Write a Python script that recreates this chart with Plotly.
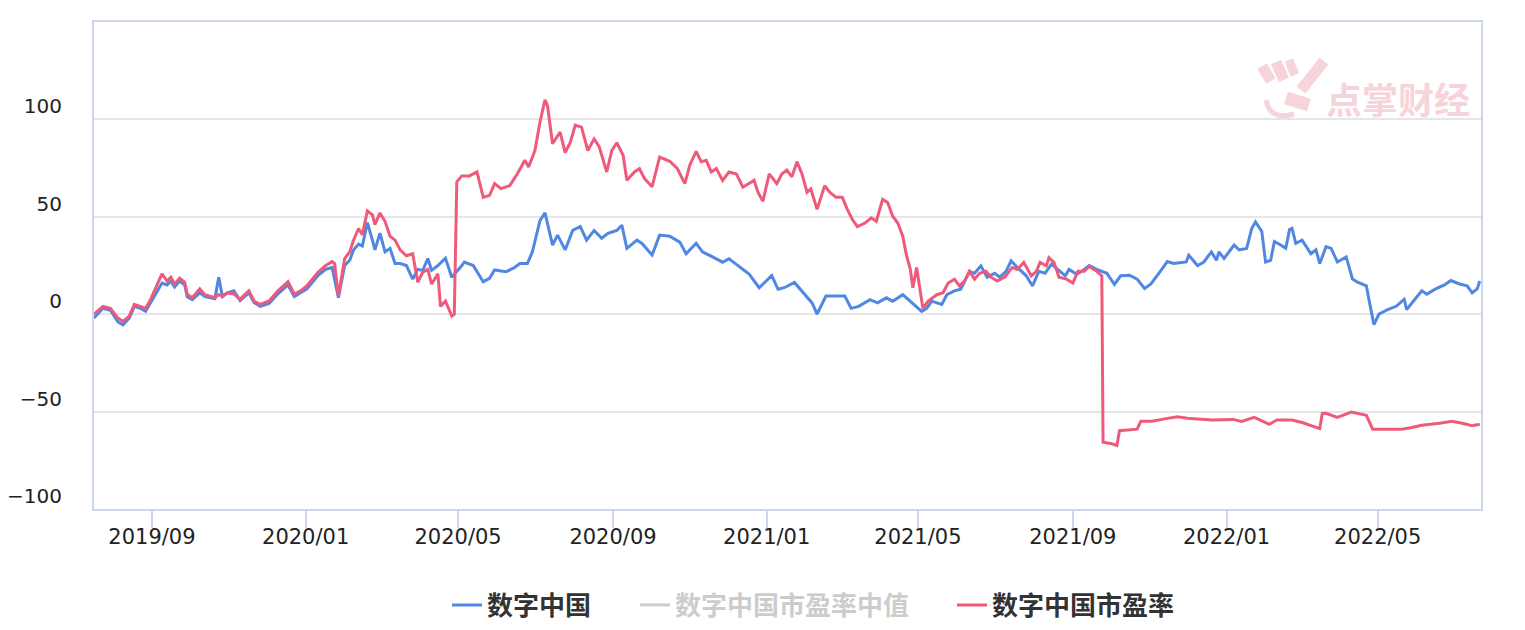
import plotly.graph_objects as go

blue_dates = ["2019-07-17","2019-07-24","2019-07-30","2019-08-05","2019-08-09","2019-08-14","2019-08-18","2019-08-23","2019-08-27","2019-08-31",
"2019-09-04","2019-09-09","2019-09-13","2019-09-16","2019-09-19","2019-09-23","2019-09-27","2019-09-29","2019-10-03","2019-10-09",
"2019-10-13","2019-10-17","2019-10-21","2019-10-24","2019-10-27","2019-10-31","2019-11-05","2019-11-10","2019-11-17","2019-11-21",
"2019-11-26","2019-12-03","2019-12-10","2019-12-18","2019-12-23","2019-12-28","2020-01-02","2020-01-11","2020-01-17","2020-01-22",
"2020-01-27","2020-02-01","2020-02-05","2020-02-08","2020-02-12","2020-02-15","2020-02-19","2020-02-23","2020-02-25","2020-02-29",
"2020-03-04","2020-03-08","2020-03-12","2020-03-16","2020-03-21","2020-03-26","2020-03-30","2020-04-03","2020-04-07","2020-04-10",
"2020-04-15","2020-04-21","2020-04-26","2020-05-04","2020-05-06","2020-05-13","2020-05-21","2020-05-26","2020-05-30","2020-06-08",
"2020-06-15","2020-06-19","2020-06-25","2020-06-29","2020-07-05","2020-07-09","2020-07-15","2020-07-19","2020-07-25","2020-07-31",
"2020-08-06","2020-08-11","2020-08-17","2020-08-23","2020-08-28","2020-09-04","2020-09-08","2020-09-12","2020-09-20","2020-09-24",
"2020-10-02","2020-10-08","2020-10-16","2020-10-24","2020-10-29","2020-11-06","2020-11-11","2020-11-19","2020-11-27","2020-12-02",
"2020-12-11","2020-12-18","2020-12-26","2021-01-05","2021-01-10","2021-01-15","2021-01-23","2021-01-31","2021-02-06","2021-02-10",
"2021-02-17","2021-02-25","2021-03-04","2021-03-09","2021-03-15","2021-03-24","2021-03-30","2021-04-06","2021-04-11","2021-04-19",
"2021-04-26","2021-05-04","2021-05-08","2021-05-12","2021-05-20","2021-05-24","2021-05-30","2021-06-04","2021-06-11","2021-06-15",
"2021-06-20","2021-06-25","2021-07-01","2021-07-05","2021-07-10","2021-07-14","2021-07-19","2021-07-26","2021-07-31","2021-08-05",
"2021-08-10","2021-08-15","2021-08-20","2021-08-26","2021-08-29","2021-09-04","2021-09-08","2021-09-14","2021-09-20","2021-09-28",
"2021-10-04","2021-10-09","2021-10-16","2021-10-22","2021-10-28","2021-11-02","2021-11-09","2021-11-15","2021-11-20","2021-11-30",
"2021-12-02","2021-12-09","2021-12-14","2021-12-20","2021-12-24","2021-12-26","2021-12-30","2022-01-07","2022-01-11","2022-01-17",
"2022-01-21","2022-01-24","2022-01-29","2022-02-01","2022-02-05","2022-02-08","2022-02-13","2022-02-17","2022-02-20","2022-02-22",
"2022-02-25","2022-03-02","2022-03-09","2022-03-13","2022-03-16","2022-03-21","2022-03-25","2022-03-30","2022-04-06","2022-04-11",
"2022-04-15","2022-04-22","2022-04-24","2022-04-28","2022-05-02","2022-05-09","2022-05-16","2022-05-22","2022-05-24","2022-06-01",
"2022-06-05","2022-06-09","2022-06-16","2022-06-23","2022-06-28","2022-07-05","2022-07-11","2022-07-15","2022-07-19","2022-07-21"]
blue_vals = [-2,3,2,-4,-5.5,-2,4,3,1.5,6,
11,16,15,17,14,17,15,9,7.5,11,
9,8.5,8,19,9,11,12,7,11,6,
4,5.5,10.5,15,9,11,13,20,23,24,
8.5,25,27.7,33,36,35,47,38,33,41.6,
32,33.8,26,26,25,18,23,22.5,28.6,22.5,
25,28.7,19,25,26.8,25,16.7,18.4,22.7,21.8,
24,26,26,32,48,52,35.5,40.6,33,43,
45,38,43,39,41.5,43,45.7,33.8,38,36.3,
30.4,40.6,40,37,31,36.4,32,29.4,26.7,28.5,
24,20.6,13.6,19.8,12.8,13.6,16.3,10,5.8,0,
9.3,9.3,9.3,3,4,7.5,5.8,8.4,6.6,10,
5.8,1.4,3,6.7,5,10,12,12.8,22,21,
24.8,19,21,19,22,27.4,24,19.7,14.5,22,
21,25.7,23,19.7,23,20.5,22,25,23,21,
15.3,19.7,20,18,13.2,15.5,21.6,27,26,26.8,
30.3,25,26.8,32,27.7,32,28.6,35.5,33,33.8,
44,47.4,42.5,26.8,27.7,37.3,35.5,33.8,43.4,44,
36.4,38,31,33,26,34.7,33.8,26.8,29.4,18,
16.4,14.6,7.7,-5.4,0,2.4,4.2,7.7,2.4,8.5,
12,10.3,13,15,17.3,15.5,14.6,11,13,17]

red_dates = ["2019-07-17","2019-07-24","2019-07-30","2019-08-05","2019-08-09","2019-08-14","2019-08-18","2019-08-23","2019-08-27","2019-08-31",
"2019-09-04","2019-09-09","2019-09-13","2019-09-16","2019-09-19","2019-09-23","2019-09-27","2019-09-29","2019-10-03","2019-10-09",
"2019-10-13","2019-10-17","2019-10-21","2019-10-24","2019-10-27","2019-10-31","2019-11-05","2019-11-10","2019-11-17","2019-11-21",
"2019-11-26","2019-12-03","2019-12-10","2019-12-18","2019-12-23","2019-12-28","2020-01-02","2020-01-11","2020-01-17","2020-01-22",
"2020-01-24","2020-01-27","2020-02-01","2020-02-05","2020-02-08","2020-02-12","2020-02-15","2020-02-19","2020-02-23","2020-02-25",
"2020-02-29","2020-03-04","2020-03-08","2020-03-12","2020-03-16","2020-03-21","2020-03-26","2020-03-30","2020-04-03","2020-04-07",
"2020-04-10","2020-04-15","2020-04-17","2020-04-21","2020-04-26","2020-04-28","2020-04-30","2020-05-04","2020-05-10","2020-05-16",
"2020-05-21","2020-05-26","2020-05-30","2020-06-04","2020-06-11","2020-06-17","2020-06-23","2020-06-26","2020-07-01","2020-07-05",
"2020-07-09","2020-07-11","2020-07-15","2020-07-21","2020-07-25","2020-07-29","2020-08-02","2020-08-07","2020-08-12","2020-08-17",
"2020-08-21","2020-08-27","2020-08-31","2020-09-04","2020-09-09","2020-09-12","2020-09-18","2020-09-22","2020-09-26","2020-10-02",
"2020-10-08","2020-10-16","2020-10-22","2020-10-28","2020-11-01","2020-11-06","2020-11-10","2020-11-14","2020-11-18","2020-11-22",
"2020-11-27","2020-12-02","2020-12-08","2020-12-13","2020-12-19","2020-12-22","2020-12-25","2020-12-29","2021-01-03","2021-01-09",
"2021-01-13","2021-01-17","2021-01-21","2021-01-25","2021-01-29","2021-02-02","2021-02-05","2021-02-10","2021-02-16","2021-02-20",
"2021-02-25","2021-03-02","2021-03-06","2021-03-10","2021-03-14","2021-03-20","2021-03-25","2021-03-29","2021-04-03","2021-04-07",
"2021-04-11","2021-04-15","2021-04-19","2021-04-22","2021-04-25","2021-04-27","2021-04-30","2021-05-01","2021-05-05","2021-05-09",
"2021-05-16","2021-05-21","2021-05-25","2021-05-30","2021-06-03","2021-06-07","2021-06-11","2021-06-15","2021-06-19","2021-06-24",
"2021-06-28","2021-07-03","2021-07-09","2021-07-15","2021-07-19","2021-07-24","2021-07-30","2021-08-03","2021-08-06","2021-08-11",
"2021-08-13","2021-08-17","2021-08-21","2021-08-27","2021-09-01","2021-09-05","2021-09-10","2021-09-14","2021-09-20","2021-09-24",
"2021-09-25","2021-10-02","2021-10-06","2021-10-08","2021-10-16","2021-10-22","2021-10-25","2021-11-03","2021-11-14","2021-11-23",
"2021-12-03","2021-12-21","2022-01-06","2022-01-13","2022-01-23","2022-02-04","2022-02-10","2022-02-22","2022-03-02","2022-03-09",
"2022-03-16","2022-03-18","2022-03-21","2022-03-30","2022-04-10","2022-04-22","2022-04-27","2022-05-05","2022-05-20","2022-05-28",
"2022-06-05","2022-06-19","2022-06-29","2022-07-07","2022-07-15","2022-07-21"]
red_vals = [0,4,3,-2,-3.7,-1,5,4,3,7.7,
13.8,20.7,17,19,15.5,18.5,16.4,10.3,8.5,13,
10,9.4,8.5,10,9.4,11,10.3,7.7,12,6.8,
5,6.8,12,16.7,10.3,12,14.6,21.6,25,27,
26,9.4,28.6,32,38,44,40.8,53,51,46,
52,47.7,40,38,33,30,31,16.4,21.6,23,
15.5,20.7,4,6.8,-1,0,68,71,71,73,
60,61,67,64.5,66,72,79,75.6,84,98.6,
110,107,87.5,93.5,83,88,97,96,84,90,
86,73,84,88,81.6,68.8,73,74.7,69.6,65.4,
80.7,78.5,74.8,67,76.6,83.6,78.3,79,73,74.8,
68.7,73,72,65.2,67.8,68.7,62.6,58,72,67,
72,74,70.5,78.3,72,62.6,64.3,53.8,66,62.6,
60,60,53.8,48.6,45,46.8,49.5,47.7,59,57.3,
50.3,46.8,40,30,23,13.6,24,19.8,3,6.6,
10,11,16,18,14.5,17,22,18,21,22,
19,17,19,24,23,26.6,19.7,22,26.6,24.8,
29,26.6,19,18,16,22,22,24.5,22,19.7,
-65.7,-66.5,-67.4,-59.8,-59.5,-59,-55,-55,-53.6,-52.6,
-53.6,-54.3,-54,-55,-53,-56.5,-54.3,-54.3,-55.6,-57,
-58.7,-51,-50.9,-53,-50.2,-51.9,-59,-59,-59,-58.2,
-57,-56,-55,-56,-57.3,-56.5]

# median series is switched off in the legend (not drawn)
median_dates = ["2019-07-17"]
median_vals = [None]

tick_vals = ["2019-09-01","2020-01-01","2020-05-01","2020-09-01","2021-01-01","2021-05-01","2021-09-01","2022-01-01","2022-05-01"]
tick_text = ["2019/09","2020/01","2020/05","2020/09","2021/01","2021/05","2021/09","2022/01","2022/05"]
y_ticks = [-100, -50, 0, 50, 100]

BLUE = "#4F87E3"
RED = "#EF5A7B"

fig = go.Figure()
fig.add_trace(go.Scatter(x=blue_dates, y=blue_vals, mode="lines", name="数字中国",
                         line=dict(color=BLUE, width=3), legend="legend"))
fig.add_trace(go.Scatter(x=median_dates, y=median_vals, mode="lines", visible="legendonly",
                         name="<span style='color:#9A9A9A'>数字中国市盈率中值</span>",
                         line=dict(color="#9A9A9A", width=3), legend="legend2"))
fig.add_trace(go.Scatter(x=red_dates, y=red_vals, mode="lines", name="数字中国市盈率",
                         line=dict(color=RED, width=3), legend="legend3"))

# watermark
WM = "#F6D4D9"
def px(x):
    return (x - 94) / 1387.0
def py(y):
    return (509 - y) / 487.0

fig.add_annotation(xref="paper", yref="paper", x=px(1324), y=py(98), xanchor="left", yanchor="middle",
                   text="<b>点掌财经</b>", showarrow=False,
                   font=dict(family="Noto Sans CJK SC", size=36, color=WM))
for (x0, y0, x1, y1, w) in [(1262, 66, 1271, 81, 11), (1276, 62, 1284, 80, 11), (1289, 60, 1295, 75, 9),
                            (1301, 90, 1324, 61, 11), (1286, 98, 1309, 105, 13)]:
    fig.add_shape(type="line", xref="paper", yref="paper", x0=px(x0), y0=py(y0), x1=px(x1), y1=py(y1),
                  line=dict(color=WM, width=w), layer="below")
fig.add_shape(type="path", xref="paper", yref="paper",
              path="M %f,%f Q %f,%f %f,%f" % (px(1266), py(100), px(1270), py(121), px(1294), py(114)),
              line=dict(color=WM, width=5), layer="below")

leg_font = dict(family="Noto Sans CJK SC", size=26, color="#333333", weight="bold")
def leg(xpix):
    return dict(orientation="h", xref="container", x=xpix / 1525.0, xanchor="left",
                yref="container", y=1 - 605 / 630.0, yanchor="middle",
                font=leg_font, itemwidth=30, bgcolor="rgba(0,0,0,0)")

fig.update_layout(
    width=1525, height=630,
    margin=dict(l=94, r=44, t=22, b=121, autoexpand=False),
    plot_bgcolor="white", paper_bgcolor="white",
    showlegend=True,
    legend=leg(447), legend2=leg(635), legend3=leg(952),
    font=dict(family="DejaVu Sans", color="#333333"),
)
fig.update_xaxes(type="date", range=["2019-07-17", "2022-07-22"], automargin=False,
                 tickvals=tick_vals, ticktext=tick_text,
                 showgrid=False, showline=True, mirror=True, linecolor="#CCD6EB", linewidth=2,
                 ticks="outside", ticklen=17, tickwidth=2, tickcolor="#CCD6EB",
                 ticklabelstandoff=-9,
                 tickfont=dict(family="DejaVu Sans", size=21, color="#222222"), zeroline=False)
fig.update_yaxes(range=[-100, 150], tickvals=y_ticks, automargin=False,
                 showgrid=True, gridcolor="#E6E6E6", gridwidth=1.5,
                 showline=True, mirror=True, linecolor="#CCD6EB", linewidth=2,
                 ticks="", ticklabelshift=-13, ticklabelstandoff=26,
                 tickfont=dict(family="DejaVu Sans", size=20, color="#222222"),
                 zeroline=False)

fig.write_html("out.html")
